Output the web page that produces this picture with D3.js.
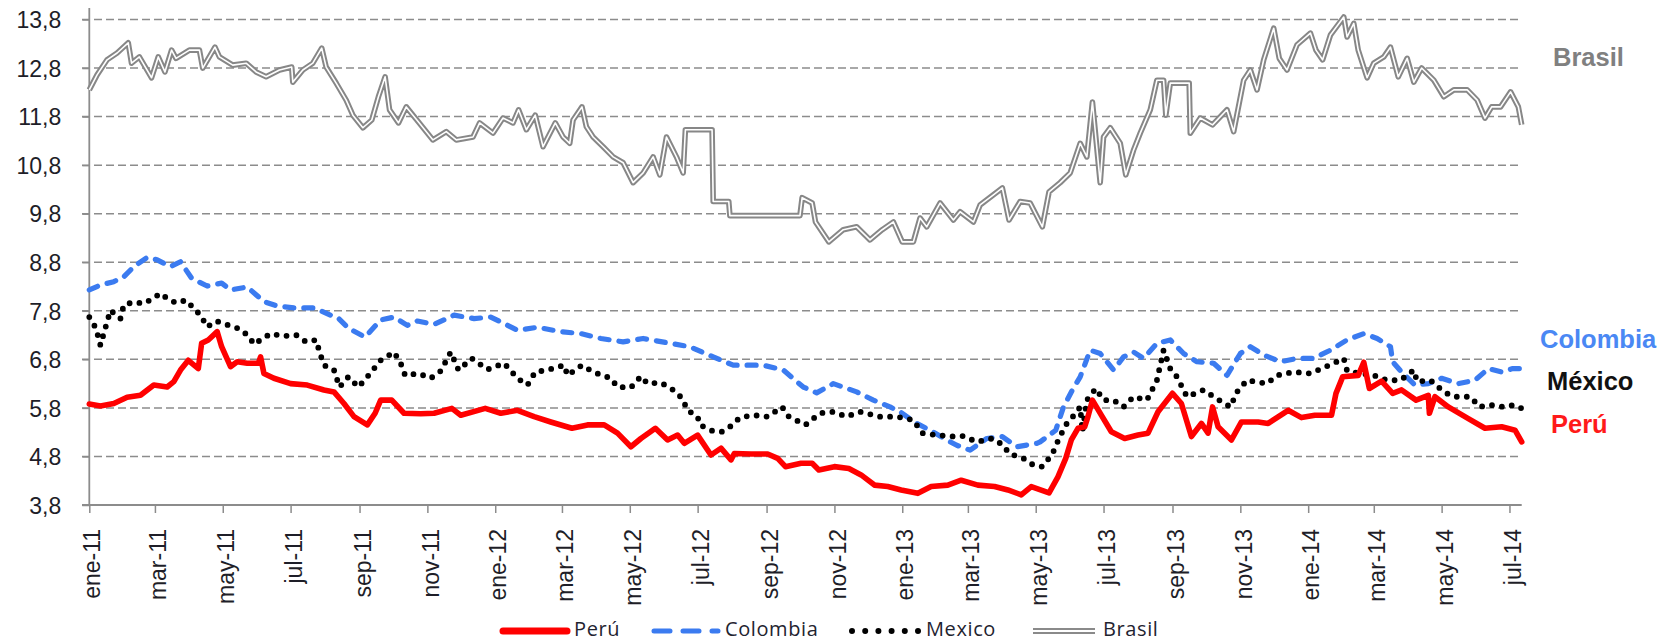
<!DOCTYPE html>
<html><head><meta charset="utf-8">
<script src="https://cdn.jsdelivr.net/npm/d3@7"></script>
<style>body{margin:0;background:#fff}svg{display:block}</style>
</head><body>
<svg id="chart" width="1667" height="642"></svg>
<script>
// ---------- DATA ----------
const xStart = "2011-01-01", xEnd = "2014-07-12";
const yTicks = [3.8, 4.8, 5.8, 6.8, 7.8, 8.8, 9.8, 10.8, 11.8, 12.8, 13.8];
const yTickLabels = ["3,8","4,8","5,8","6,8","7,8","8,8","9,8","10,8","11,8","12,8","13,8"];
const xTickDates = ["2011-01-01","2011-03-01","2011-05-01","2011-07-01","2011-09-01","2011-11-01",
  "2012-01-01","2012-03-01","2012-05-01","2012-07-01","2012-09-01","2012-11-01",
  "2013-01-01","2013-03-01","2013-05-01","2013-07-01","2013-09-01","2013-11-01",
  "2014-01-01","2014-03-01","2014-05-01","2014-07-01"];
const xTickLabels = ["ene-11","mar-11","may-11","jul-11","sep-11","nov-11",
  "ene-12","mar-12","may-12","jul-12","sep-12","nov-12",
  "ene-13","mar-13","may-13","jul-13","sep-13","nov-13",
  "ene-14","mar-14","may-14","jul-14"];
const seriesNames = ["Perú","Colombia","Mexico","Brasil"];
const endLabels = ["Brasil","Colombia","México","Perú"];

const peruDates = ["2011-01-01","2011-01-11","2011-01-23","2011-02-04","2011-02-16","2011-02-28","2011-03-12","2011-03-18","2011-03-24","2011-03-31",
"2011-04-09","2011-04-12","2011-04-18","2011-04-26","2011-04-30","2011-05-08","2011-05-14","2011-05-23","2011-06-02","2011-06-04",
"2011-06-07","2011-06-16","2011-07-01","2011-07-16","2011-07-31","2011-08-09","2011-08-18","2011-08-27","2011-09-08","2011-09-15",
"2011-09-20","2011-09-30","2011-10-11","2011-10-26","2011-11-07","2011-11-23","2011-12-01","2011-12-23","2012-01-06","2012-01-21",
"2012-02-05","2012-02-20","2012-03-10","2012-03-24","2012-04-08","2012-04-20","2012-05-02","2012-05-11","2012-05-24","2012-06-04",
"2012-06-13","2012-06-19","2012-07-01","2012-07-13","2012-07-22","2012-07-31","2012-08-03","2012-08-18","2012-09-02","2012-09-11",
"2012-09-18","2012-10-02","2012-10-12","2012-10-18","2012-11-01","2012-11-14","2012-11-25","2012-12-07","2012-12-19","2012-12-31",
"2013-01-15","2013-01-27","2013-02-11","2013-02-23","2013-03-10","2013-03-25","2013-04-06","2013-04-18","2013-04-27","2013-05-13",
"2013-05-21","2013-05-28","2013-06-02","2013-06-08","2013-06-14","2013-06-17","2013-06-21","2013-06-29","2013-07-08","2013-07-20",
"2013-08-01","2013-08-10","2013-08-19","2013-09-01","2013-09-09","2013-09-18","2013-09-27","2013-10-03","2013-10-07","2013-10-12",
"2013-10-24","2013-11-02","2013-11-17","2013-11-26","2013-12-14","2013-12-26","2014-01-07","2014-01-22","2014-01-26","2014-02-01",
"2014-02-15","2014-02-20","2014-02-25","2014-03-08","2014-03-18","2014-03-26","2014-04-08","2014-04-19","2014-04-20","2014-04-25",
"2014-05-07","2014-05-25","2014-06-09","2014-06-24","2014-07-06","2014-07-12"];
const peruValues = [5.88,5.84,5.89,6.02,6.06,6.27,6.23,6.34,6.58,6.78,
6.61,7.13,7.2,7.37,7.06,6.65,6.75,6.72,6.72,6.85,
6.51,6.41,6.3,6.27,6.17,6.13,5.89,5.62,5.45,5.69,
5.96,5.96,5.69,5.68,5.69,5.79,5.65,5.79,5.69,5.75,
5.62,5.51,5.38,5.45,5.45,5.28,5.0,5.17,5.38,5.14,
5.24,5.07,5.24,4.83,4.97,4.73,4.86,4.85,4.85,4.76,
4.59,4.66,4.66,4.52,4.59,4.55,4.42,4.21,4.18,4.11,
4.04,4.18,4.21,4.31,4.21,4.18,4.11,4.01,4.18,4.05,
4.38,4.76,5.14,5.38,5.41,5.62,5.96,5.65,5.31,5.17,
5.24,5.28,5.72,6.1,5.89,5.21,5.48,5.28,5.82,5.41,
5.14,5.51,5.51,5.48,5.75,5.6,5.65,5.65,6.1,6.44,
6.47,6.74,6.2,6.35,6.1,6.17,5.96,6.06,5.69,6.03,
5.82,5.58,5.38,5.41,5.34,5.1];

const colombiaDates = ["2011-01-01","2011-01-11","2011-01-23","2011-02-01","2011-02-10","2011-02-22","2011-03-03","2011-03-15","2011-03-24","2011-04-03",
"2011-04-17","2011-04-30","2011-05-08","2011-05-23","2011-06-07","2011-06-19","2011-07-04","2011-07-22","2011-08-06","2011-08-12",
"2011-08-22","2011-09-06","2011-09-20","2011-10-02","2011-10-14","2011-10-23","2011-11-07","2011-11-25","2011-12-13","2011-12-28",
"2012-01-06","2012-01-21","2012-02-08","2012-02-29","2012-03-18","2012-04-05","2012-04-25","2012-05-13","2012-06-04","2012-06-24",
"2012-07-15","2012-08-02","2012-08-29","2012-09-16","2012-10-04","2012-10-16","2012-10-31","2012-11-21","2012-12-06","2012-12-21",
"2012-12-30","2013-01-14","2013-01-26","2013-02-10","2013-02-19","2013-03-03","2013-03-18","2013-04-01","2013-04-14","2013-05-02",
"2013-05-05","2013-05-19","2013-05-26","2013-06-03","2013-06-10","2013-06-19","2013-06-28","2013-07-10","2013-07-19","2013-07-28",
"2013-08-06","2013-08-18","2013-08-30","2013-09-11","2013-09-23","2013-10-08","2013-10-20","2013-11-01","2013-11-10","2013-11-22",
"2013-12-07","2013-12-22","2014-01-06","2014-01-21","2014-02-05","2014-02-20","2014-03-04","2014-03-16","2014-03-18","2014-03-26",
"2014-04-07","2014-04-19","2014-05-01","2014-05-16","2014-05-31","2014-06-12","2014-06-24","2014-07-04","2014-07-12"];
const colombiaValues = [8.23,8.33,8.4,8.5,8.71,8.9,8.85,8.71,8.81,8.47,
8.31,8.37,8.23,8.29,7.99,7.9,7.86,7.86,7.71,7.67,
7.44,7.26,7.61,7.67,7.5,7.59,7.52,7.71,7.64,7.67,
7.57,7.4,7.46,7.37,7.33,7.23,7.16,7.23,7.14,7.06,
6.85,6.68,6.68,6.58,6.23,6.11,6.3,6.13,5.96,5.82,
5.72,5.48,5.34,5.14,5.03,4.93,5.17,5.21,5.0,5.07,
5.1,5.34,5.82,6.17,6.44,6.99,6.92,6.58,6.85,6.95,
6.82,7.13,7.2,6.92,6.75,6.72,6.47,6.92,7.06,6.89,
6.75,6.82,6.82,6.99,7.2,7.33,7.23,7.06,6.75,6.54,
6.27,6.3,6.41,6.3,6.37,6.61,6.54,6.61,6.61];

const mexicoDates = ["2011-01-01","2011-01-07","2011-01-11","2011-01-17","2011-01-20","2011-01-29","2011-02-01","2011-02-10","2011-02-19","2011-02-27",
"2011-03-06","2011-03-14","2011-03-21","2011-03-29","2011-04-05","2011-04-11","2011-04-17","2011-04-25","2011-05-04","2011-05-17",
"2011-05-25","2011-05-29","2011-06-06","2011-06-13","2011-06-24","2011-07-06","2011-07-15","2011-07-24","2011-07-27","2011-07-31",
"2011-08-09","2011-08-14","2011-08-22","2011-08-31","2011-09-08","2011-09-20","2011-10-02","2011-10-08","2011-10-12","2011-10-24",
"2011-11-04","2011-11-13","2011-11-22","2011-11-29","2011-12-11","2011-12-25","2012-01-09","2012-01-21","2012-01-30","2012-02-06",
"2012-02-17","2012-03-03","2012-03-06","2012-03-19","2012-03-29","2012-04-14","2012-04-20","2012-05-02","2012-05-11","2012-05-17",
"2012-05-29","2012-06-09","2012-06-17","2012-06-22","2012-07-01","2012-07-03","2012-07-15","2012-07-23","2012-07-30","2012-08-08",
"2012-08-20","2012-09-02","2012-09-15","2012-09-21","2012-10-06","2012-10-19","2012-10-31","2012-11-12","2012-11-24","2012-12-12",
"2012-12-27","2013-01-11","2013-01-19","2013-02-01","2013-02-16","2013-02-25","2013-03-09","2013-03-23","2013-04-02","2013-04-07",
"2013-04-20","2013-04-29","2013-05-07","2013-05-16","2013-05-20","2013-05-25","2013-05-29","2013-06-06","2013-06-10","2013-06-12",
"2013-06-16","2013-06-24","2013-07-01","2013-07-10","2013-07-19","2013-07-28","2013-08-09","2013-08-18","2013-08-24","2013-08-30",
"2013-09-05","2013-09-14","2013-09-29","2013-10-08","2013-10-23","2013-10-29","2013-11-07","2013-11-25","2013-12-04","2013-12-19",
"2014-01-03","2014-01-12","2014-01-24","2014-02-02","2014-02-05","2014-02-17","2014-03-01","2014-03-13","2014-03-25","2014-04-06",
"2014-04-09","2014-04-21","2014-05-03","2014-05-12","2014-05-27","2014-06-04","2014-06-14","2014-06-26","2014-07-05","2014-07-12"];
const mexicoValues = [7.67,7.44,7.09,7.57,7.81,7.64,7.92,7.98,7.95,8.05,
8.16,8.02,7.96,8.02,7.85,7.71,7.47,7.59,7.52,7.42,
7.26,7.11,7.23,7.33,7.28,7.3,7.16,7.2,6.95,6.68,
6.58,6.23,6.44,6.23,6.44,6.78,6.95,6.72,6.47,6.51,
6.41,6.56,6.95,6.58,6.82,6.59,6.72,6.41,6.27,6.54,
6.58,6.68,6.47,6.68,6.54,6.41,6.23,6.22,6.45,6.3,
6.32,6.17,6.0,5.75,5.62,5.45,5.32,5.31,5.41,5.6,
5.65,5.62,5.82,5.62,5.45,5.69,5.72,5.62,5.72,5.62,
5.62,5.55,5.28,5.24,5.21,5.22,5.1,5.17,5.03,4.86,
4.76,4.62,4.59,4.85,5.07,5.31,5.48,5.69,5.82,5.31,
5.96,6.2,5.96,5.96,5.82,6.03,5.96,6.37,6.99,6.61,
6.44,6.03,6.17,6.03,5.82,6.13,6.37,6.3,6.47,6.54,
6.51,6.6,6.72,6.82,6.56,6.51,6.47,6.37,6.37,6.58,
6.34,6.37,6.13,6.03,6.03,5.82,5.86,5.82,5.86,5.79];

const brasilDates = ["2011-01-01","2011-01-08","2011-01-17","2011-01-26","2011-02-05","2011-02-08","2011-02-15","2011-02-26","2011-03-04","2011-03-10",
"2011-03-16","2011-03-20","2011-04-01","2011-04-10","2011-04-13","2011-04-24","2011-04-28","2011-05-10","2011-05-22","2011-05-31",
"2011-06-09","2011-06-21","2011-07-02","2011-07-03","2011-07-12","2011-07-21","2011-07-29","2011-08-02","2011-08-11","2011-08-20",
"2011-08-26","2011-09-04","2011-09-12","2011-09-18","2011-09-24","2011-09-28","2011-10-06","2011-10-13","2011-10-24","2011-11-06",
"2011-11-18","2011-11-27","2011-12-12","2011-12-18","2011-12-30","2012-01-08","2012-01-17","2012-01-22","2012-01-29","2012-02-06",
"2012-02-13","2012-02-24","2012-03-02","2012-03-08","2012-03-11","2012-03-19","2012-03-23","2012-03-29","2012-04-07","2012-04-16",
"2012-04-25","2012-05-04","2012-05-13","2012-05-22","2012-05-28","2012-06-03","2012-06-12","2012-06-18","2012-06-20","2012-07-14",
"2012-07-15","2012-07-29","2012-07-30","2012-10-01","2012-10-03","2012-10-12","2012-10-15","2012-10-27","2012-11-09","2012-11-21",
"2012-12-03","2012-12-14","2012-12-24","2013-01-01","2013-01-11","2013-01-17","2013-01-23","2013-02-04","2013-02-16","2013-02-22",
"2013-03-06","2013-03-12","2013-03-24","2013-04-01","2013-04-07","2013-04-17","2013-04-26","2013-05-07","2013-05-13","2013-05-23",
"2013-06-01","2013-06-10","2013-06-16","2013-06-21","2013-06-28","2013-07-01","2013-07-07","2013-07-16","2013-07-21","2013-07-28",
"2013-08-03","2013-08-12","2013-08-18","2013-08-24","2013-08-26","2013-08-30","2013-09-16","2013-09-17","2013-09-26","2013-10-07",
"2013-10-20","2013-10-26","2013-11-04","2013-11-10","2013-11-16","2013-11-22","2013-12-01","2013-12-06","2013-12-13","2013-12-22",
"2014-01-03","2014-01-08","2014-01-14","2014-01-21","2014-02-02","2014-02-05","2014-02-11","2014-02-15","2014-02-23","2014-03-01",
"2014-03-10","2014-03-16","2014-03-23","2014-03-31","2014-04-06","2014-04-13","2014-04-24","2014-05-03","2014-05-12","2014-05-24",
"2014-06-02","2014-06-09","2014-06-15","2014-06-23","2014-07-02","2014-07-09","2014-07-12"];
const brasilValues = [12.35,12.66,12.97,13.11,13.32,12.9,13.03,12.6,13.03,12.72,
13.17,13.0,13.17,13.17,12.8,13.23,13.03,12.86,12.9,12.72,
12.62,12.76,12.82,12.51,12.76,12.9,13.21,12.82,12.49,12.14,
11.83,11.57,11.73,12.21,12.62,11.94,11.67,12.0,11.69,11.32,
11.49,11.32,11.38,11.67,11.46,11.77,11.67,11.94,11.53,11.83,
11.18,11.67,11.38,11.25,11.73,12.0,11.59,11.38,11.18,10.97,
10.85,10.44,10.64,10.97,10.6,11.38,10.97,10.64,11.53,11.53,
10.05,10.05,9.76,9.76,10.13,10.02,9.63,9.22,9.47,9.53,
9.26,9.47,9.63,9.22,9.22,9.71,9.53,10.02,9.67,9.84,
9.63,9.98,10.19,10.33,9.67,10.05,10.02,9.53,10.25,10.44,
10.64,11.25,10.97,12.1,10.44,11.38,11.57,11.25,10.6,11.11,
11.46,11.94,12.55,12.55,11.83,12.49,12.49,11.46,11.77,11.63,
11.94,11.49,12.55,12.76,12.35,12.97,13.62,13.0,12.76,13.28,
13.52,13.17,12.97,13.48,13.85,13.44,13.72,13.17,12.6,12.9,
13.03,13.23,12.62,13.0,12.51,12.8,12.55,12.21,12.35,12.35,
12.14,11.77,12.0,12.0,12.31,12.0,11.63];

// ---------- CHART ----------
const svg = d3.select("#chart");
const parse = d3.utcParse("%Y-%m-%d");
const x = d3.scaleUtc().domain([parse(xStart), parse(xEnd)]).range([89.3, 1521.7]);
const y = d3.scaleLinear().domain([3.8, 13.8]).range([505, 19.5]);
const axisColor = "#8c8c8c";
const tickFont = "'Liberation Sans', Arial, sans-serif";

// dashed gridlines
svg.append("g").selectAll("line").data(yTicks.slice(1)).join("line")
  .attr("x1", 82).attr("x2", x.range()[1])
  .attr("y1", d => y(d)).attr("y2", d => y(d))
  .attr("stroke", axisColor).attr("stroke-width", 1.5).attr("stroke-dasharray", "8,4");

// y axis
const yAxis = svg.append("g").attr("transform", `translate(${x.range()[0]},0)`)
  .call(d3.axisLeft(y).tickValues(yTicks).tickSize(7).tickSizeOuter(0).tickPadding(21)
    .tickFormat((d, i) => yTickLabels[i]));
yAxis.select(".domain").remove();
yAxis.selectAll(".tick line").attr("stroke", axisColor).attr("stroke-width", 1.5);
yAxis.selectAll(".tick text").attr("font-family", tickFont).attr("font-size", 23)
  .attr("fill", "#1e1e28").attr("dy", "0.36em");
svg.append("line").attr("x1", x.range()[0]).attr("x2", x.range()[0]).attr("y1", 8).attr("y2", y(3.8))
  .attr("stroke", axisColor).attr("stroke-width", 1.8);

// x axis
const xAxis = svg.append("g").attr("transform", `translate(0,${y(3.8)})`)
  .call(d3.axisBottom(x).tickValues(xTickDates.map(parse)).tickSize(8).tickSizeOuter(0)
    .tickFormat((d, i) => xTickLabels[i]));
xAxis.select(".domain").attr("d", `M82,0H${x.range()[1]}`).attr("stroke", axisColor).attr("stroke-width", 1.8);
xAxis.selectAll(".tick line").attr("stroke", axisColor).attr("stroke-width", 1.5);
xAxis.selectAll(".tick text").attr("font-family", tickFont).attr("font-size", 23).attr("fill", "#1e1e28")
  .attr("text-anchor", "end").attr("transform", "rotate(-90) scale(1,1.08)")
  .attr("x", -24).attr("y", 0).attr("dy", "0.43em");

// lines
const mk = (ds, vs) => ds.map((d, i) => ({date: parse(d), v: vs[i]}));
const line = d3.line().x(d => x(d.date)).y(d => y(d.v)).curve(d3.curveLinear);
const peru = mk(peruDates, peruValues), col = mk(colombiaDates, colombiaValues),
      mex = mk(mexicoDates, mexicoValues), bra = mk(brasilDates, brasilValues);
const g = svg.append("g").attr("fill", "none").attr("stroke-linejoin", "round");
const blue = "#3b7bf0";
g.append("path").datum(bra).attr("d", line).attr("stroke", "#878787").attr("stroke-width", 5.6);
g.append("path").datum(bra).attr("d", line).attr("stroke", "#ffffff").attr("stroke-width", 1.6);
g.append("path").datum(col).attr("d", line).attr("stroke", blue).attr("stroke-width", 5.2)
  .attr("stroke-linecap", "round").attr("stroke-dasharray", "9,10");
g.append("path").datum(mex).attr("d", line).attr("stroke", "#000").attr("stroke-width", 5.8)
  .attr("stroke-linecap", "round").attr("stroke-dasharray", "0,10");
g.append("path").datum(peru).attr("d", line).attr("stroke", "#ff0000").attr("stroke-width", 5.6)
  .attr("stroke-linecap", "round");

// end labels
const endStyle = [
  {x: 1553, y: 66, c: "#808080"},
  {x: 1540, y: 348, c: "#4a88f4"},
  {x: 1547, y: 390, c: "#111"},
  {x: 1551, y: 433, c: "#ff1a1a"}];
svg.append("g").selectAll("text").data(endLabels).join("text")
  .attr("x", (d, i) => endStyle[i].x).attr("y", (d, i) => endStyle[i].y)
  .attr("fill", (d, i) => endStyle[i].c)
  .attr("font-family", tickFont).attr("font-weight", "bold").attr("font-size", 25.5)
  .text(d => d);

// legend
const lg = svg.append("g").attr("fill", "none");
const ly = 631;
lg.append("line").attr("x1", 503).attr("x2", 567).attr("y1", ly).attr("y2", ly)
  .attr("stroke", "#ff0000").attr("stroke-width", 7).attr("stroke-linecap", "round");
lg.append("line").attr("x1", 654).attr("x2", 718).attr("y1", ly).attr("y2", ly)
  .attr("stroke", blue).attr("stroke-width", 5).attr("stroke-linecap", "round").attr("stroke-dasharray", "16,13");
lg.append("line").attr("x1", 852).attr("x2", 918).attr("y1", ly).attr("y2", ly)
  .attr("stroke", "#000").attr("stroke-width", 6).attr("stroke-linecap", "round").attr("stroke-dasharray", "0,13.2");
lg.append("line").attr("x1", 1033).attr("x2", 1095).attr("y1", ly).attr("y2", ly)
  .attr("stroke", "#8a8a8a").attr("stroke-width", 6);
lg.append("line").attr("x1", 1033).attr("x2", 1095).attr("y1", ly).attr("y2", ly)
  .attr("stroke", "#fff").attr("stroke-width", 2);
const legendTextX = [574, 725, 926, 1103];
svg.append("g").selectAll("text").data(seriesNames).join("text")
  .attr("x", (d, i) => legendTextX[i]).attr("y", 636)
  .attr("font-family", "'Open Sans', sans-serif").attr("font-size", 20).attr("letter-spacing", 0.6)
  .attr("fill", "#1f2430").text(d => d);
</script>
</body></html>
